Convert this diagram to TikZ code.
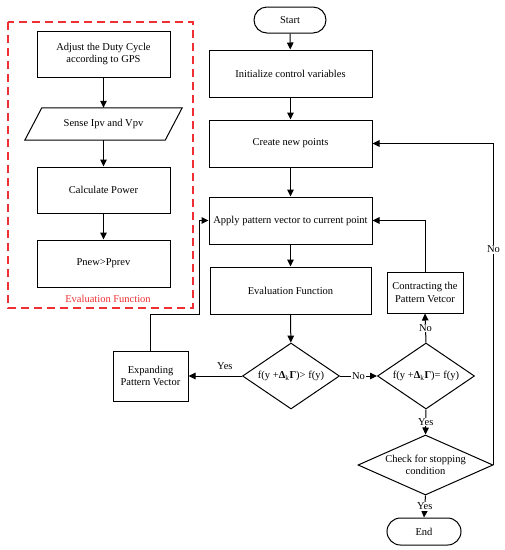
\documentclass[tikz,border=0pt]{standalone}
\usepackage{fontspec}
\setmainfont{Liberation Serif}
\usepackage{tikz}
\usetikzlibrary{arrows.meta,positioning,shapes.geometric,shapes.misc}
\definecolor{evalred}{RGB}{238,48,52}
\tikzset{
  fc/process/.style={draw, rectangle, line width=1pt, align=center, inner sep=2pt},
  fc/terminal/.style={draw, rounded rectangle, line width=1pt, inner sep=2pt},
  fc/decision/.style={draw, diamond, line width=1pt, aspect=1.47, inner sep=0pt, align=center},
  fc/io/.style={rectangle, inner sep=2pt, align=center},
  fc/line/.style={line width=1pt, -{Triangle[length=7pt,width=6.5pt]}},
  fc/link/.style={line width=1pt},
  fc/label/.style={fill=white, inner sep=1pt},
  fc/frame/.style={draw=evalred, line width=1.1pt, dash pattern=on 8pt off 5pt}
}

\begin{document}
\begin{tikzpicture}[x=1pt, y=-1pt, font=\fontsize{10.5}{12.5}\selectfont]
  \useasboundingbox (0,0) rectangle (505,550);

  % evaluation function detail
  \draw[fc/frame] (8,22) rectangle (193,308);
  \node[fc/process, minimum width=133pt, minimum height=46pt] (adjust) at (103.5,54) {Adjust the Duty Cycle\\according to GPS};
  \node[fc/io, minimum width=140pt, minimum height=32pt] (sense) at (103.5,124) {Sense Ipv and Vpv};
  \draw[fc/link] ([xshift=8.5pt]sense.north west) -- ([xshift=8.5pt]sense.north east)
    -- ([xshift=-8.5pt]sense.south east) -- ([xshift=-8.5pt]sense.south west) -- cycle;
  \node[fc/process, minimum width=133pt, minimum height=46pt] (calc) at (103.5,190) {Calculate Power};
  \node[fc/process, minimum width=133pt, minimum height=47pt] (pcomp) at (103.5,263.5) {Pnew>Pprev};
  \node[text=evalred] (evallbl) at (108,299) {Evaluation Function};

  \draw[fc/line] (adjust) -- (sense);
  \draw[fc/line] (sense) -- (calc);
  \draw[fc/line] (calc) -- (pcomp);

  % main flow
  \node[fc/terminal, minimum width=76pt, minimum height=26pt] (start) at (290,20) {Start};
  \node[fc/process, minimum width=163pt, minimum height=47pt] (init) at (290.5,73.5) {Initialize control variables};
  \node[fc/process, minimum width=163pt, minimum height=47pt] (create) at (290.5,143.5) {Create new points};
  \node[fc/process, minimum width=163pt, minimum height=47pt] (apply) at (290.5,220.5) {Apply pattern vector to current point};
  \node[fc/process, minimum width=161pt, minimum height=47pt] (evalf) at (290.5,290.5) {Evaluation Function};
  \node[fc/decision, minimum width=97pt, minimum height=66pt] (dec1) at (291,376) {f(y +\textbf{Δ}\textsubscript{k}\textbf{Γ})> f(y)};
  \node[fc/decision, minimum width=97pt, minimum height=66pt] (dec2) at (426,376) {f(y +\textbf{Δ}\textsubscript{k}\textbf{Γ})= f(y)};
  \node[fc/process, minimum width=75pt, minimum height=50pt] (expand) at (150.5,376) {Expanding\\Pattern Vector};
  \node[fc/process, minimum width=76pt, minimum height=41pt] (contract) at (425,292.5) {Contracting the\\Pattern Vetcor};
  \node[fc/decision, aspect=2.25, inner sep=-3pt, minimum width=135pt, minimum height=60pt] (dec3) at (425.5,465) {Check for stopping\\condition};
  \node[fc/terminal, minimum width=78pt, minimum height=27pt] (stop) at (424,531.5) {End};
  \coordinate (ebend) at (199,314);

  \draw[fc/line] (start) -- (init);
  \draw[fc/line] (init) -- (create);
  \draw[fc/line] (create) -- (apply);
  \draw[fc/line] (apply) -- (evalf);
  \draw[fc/line] (evalf) -- (dec1);
  \draw[fc/line] (dec1.west) -- node[above=3pt, pos=0.32] (yes1) {Yes} (expand.east);
  \draw[fc/line] (dec1.east) -- node[fc/label] (no1) {No} (dec2.west);
  \draw[fc/line] (dec2.north) -- node[fc/label] (no2) {No} (contract.south);
  \draw[fc/line] (contract.north) |- (apply.east);
  \draw[fc/line] (expand.north) |- (ebend) |- (apply.west);
  \draw[fc/line] (dec2.south) -- node[fc/label] (yes2) {Yes} (dec3.north);
  \draw[fc/line] (dec3.south) -- node[fc/label] (yes3) {Yes} (stop.north);
  \draw[fc/line] (dec3.east) |- node[fc/label, pos=0.335] (no3) {No} (create.east);
\end{tikzpicture}
\end{document}
